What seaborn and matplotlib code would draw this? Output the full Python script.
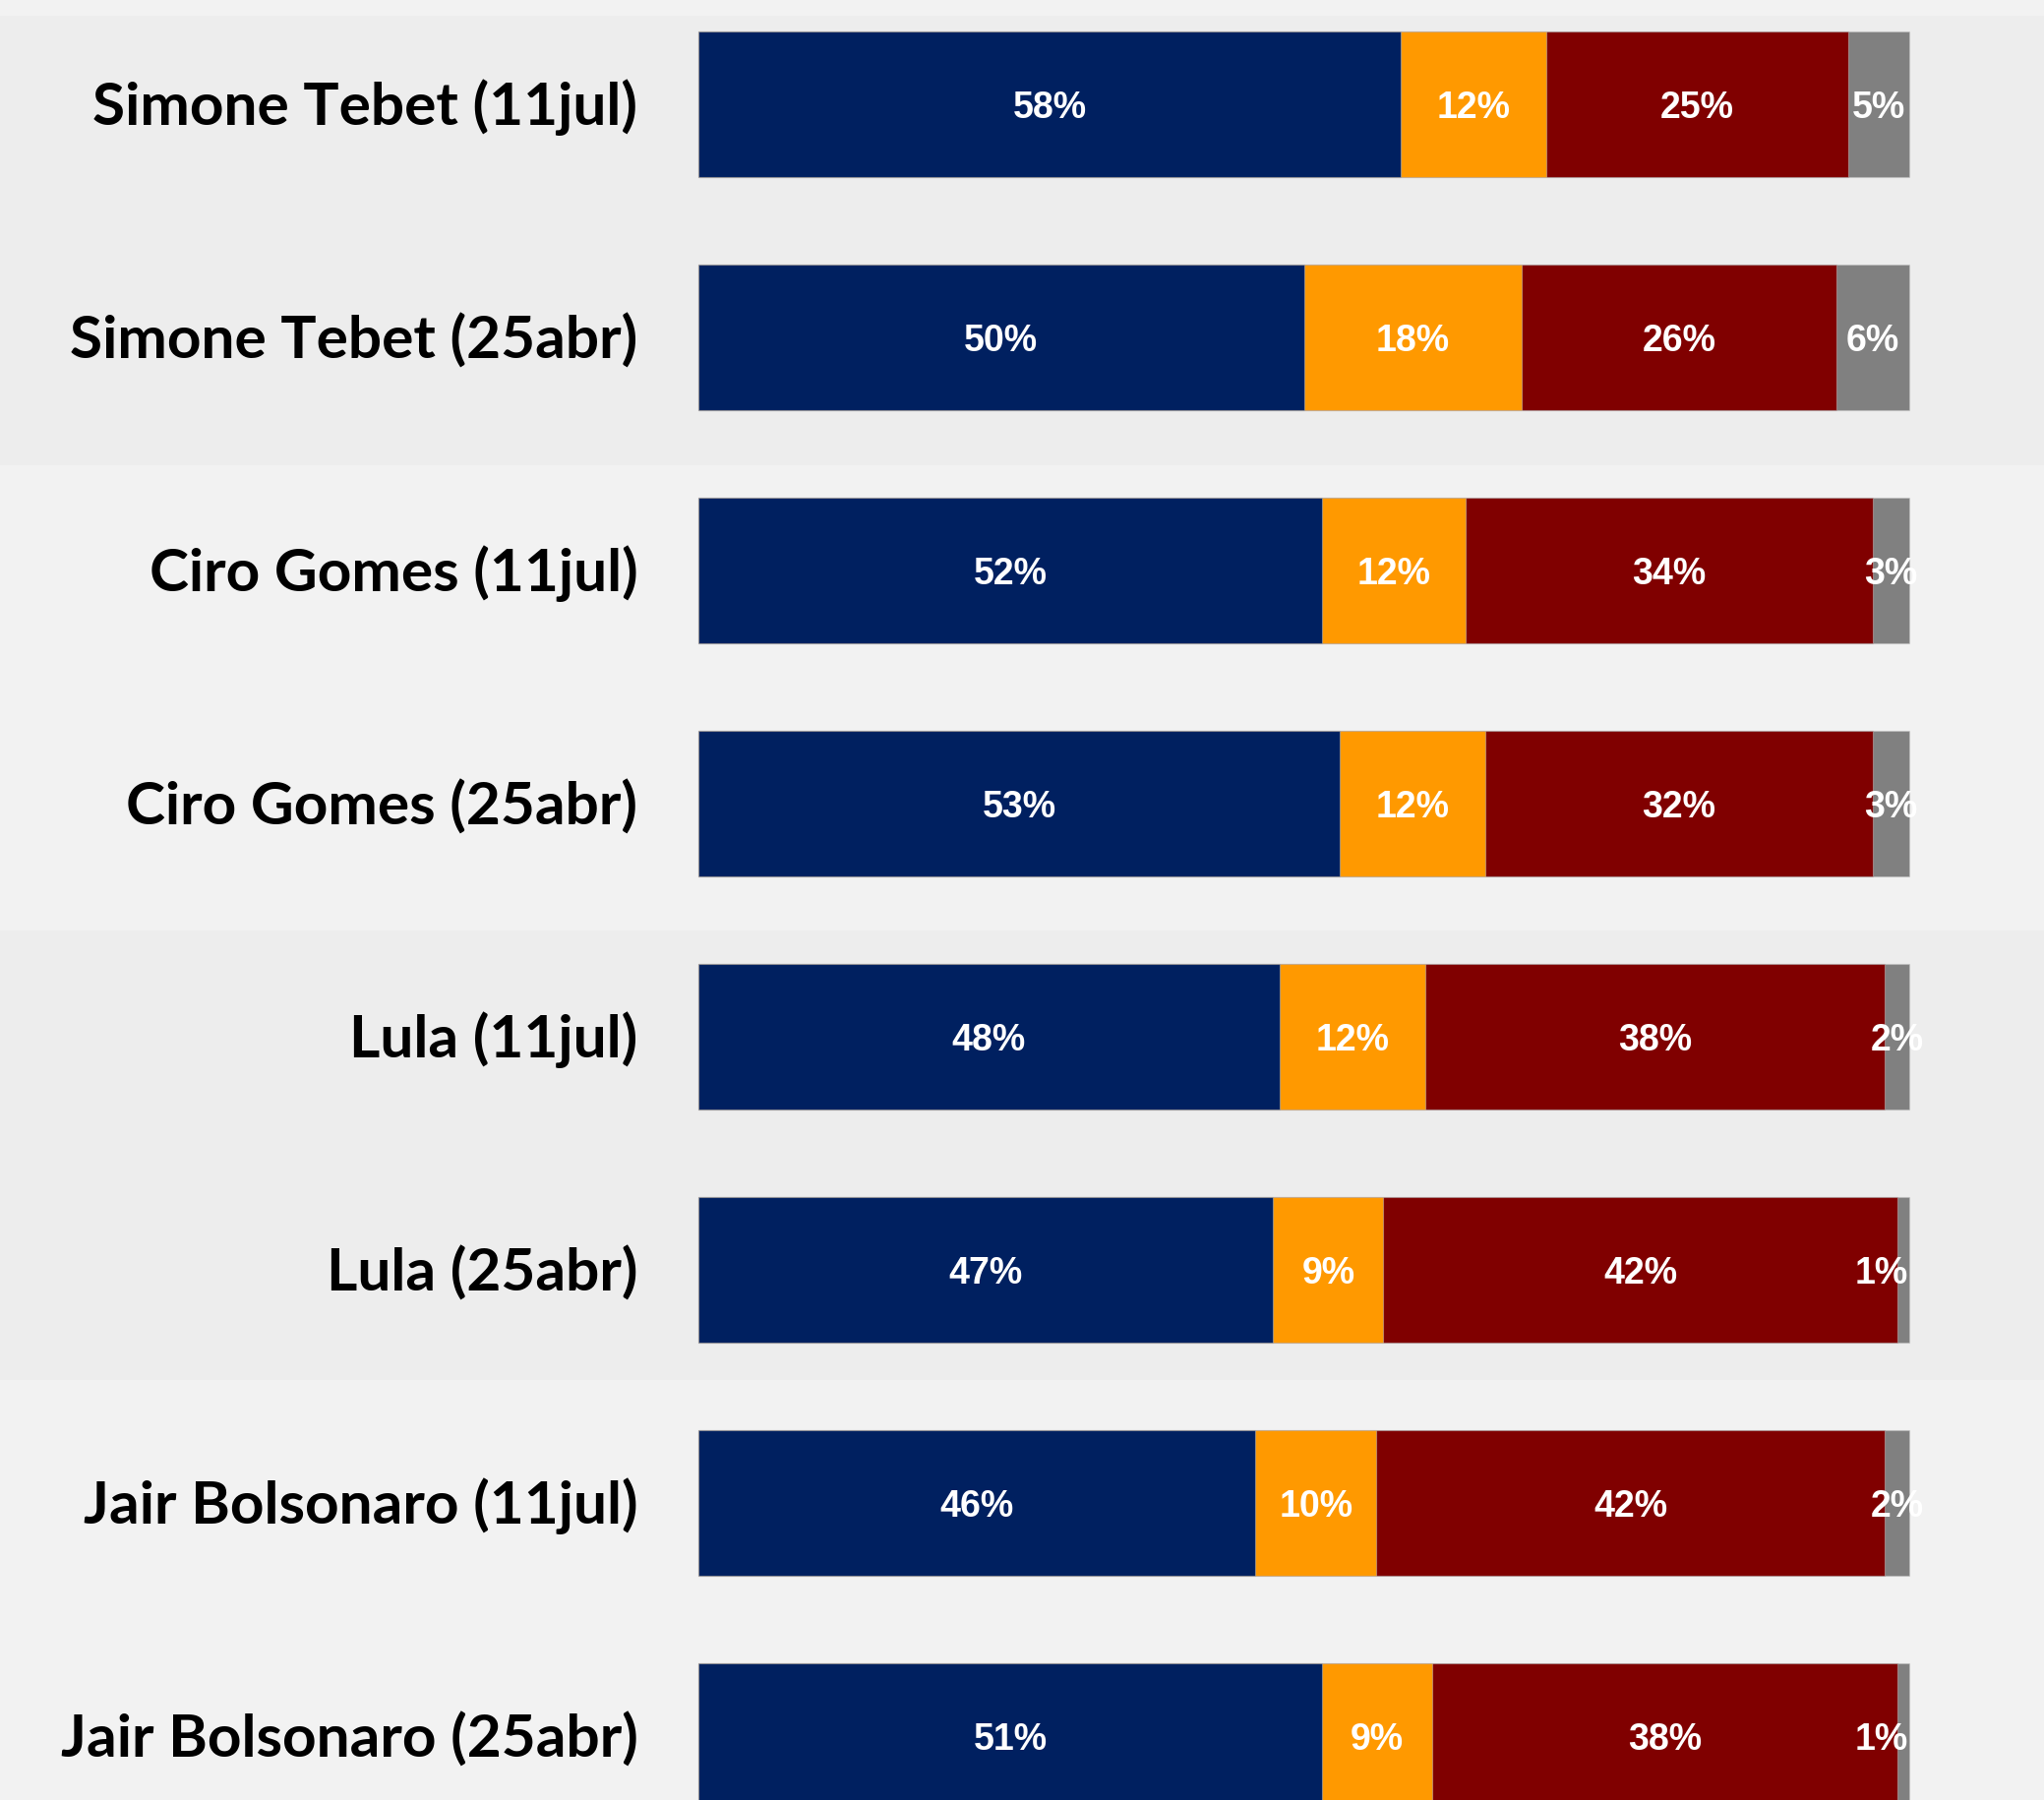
#!/usr/bin/env python3

# import packages
import pandas as pd
import seaborn as sns
import matplotlib.pyplot as plt

# data
labels = ['Simone Tebet (11jul)', 'Simone Tebet (25abr)',
          'Ciro Gomes (11jul)', 'Ciro Gomes (25abr)',
          'Lula (11jul)', 'Lula (25abr)',
          'Jair Bolsonaro (11jul)', 'Jair Bolsonaro (25abr)']
blue_vals = [58, 50, 52, 53, 48, 47, 46, 51]
orange_vals = [12, 18, 12, 12, 12, 9, 10, 9]
red_vals = [25, 26, 34, 32, 38, 42, 42, 38]
gray_vals = [5, 6, 3, 3, 2, 1, 2, 1]

colors = ['#002060', '#ff9900', '#800000', '#808080']

df = pd.DataFrame({'label': labels, 'blue': blue_vals, 'orange': orange_vals,
                   'red': red_vals, 'gray': gray_vals})
series = ['blue', 'orange', 'red', 'gray']
total = df[series].sum(axis=1)
# shares scaled so that every bar fills 100
share = df[series].div(total, axis=0) * 100
cum = share.cumsum(axis=1)

fig = plt.figure(figsize=(20.78, 18.30), dpi=100, facecolor='#f2f2f2')
ax = fig.add_axes([0, 0, 1, 1])
ax.set_facecolor('#f2f2f2')

# background bands, one per candidate (every second one shaded)
for y0, y1 in [(-0.38, 1.549), (3.544, 5.473)]:
    ax.axhspan(y0, y1, color='#ededed', lw=0, zorder=0)

# stacked bars: draw cumulative totals from the back to the front
for s, c in zip(series[::-1], colors[::-1]):
    sns.barplot(x=cum[s].values, y=df['label'], orient='h', color=c,
                saturation=1, width=0.624, linewidth=0.8,
                edgecolor=(0.75, 0.75, 0.75, 0.5), ax=ax, zorder=2)

# value labels + row labels
dy = 0.015
for i in range(len(df)):
    left = 0
    for s in series:
        w = share.loc[i, s]
        xc = left + w / 2
        if w < 1.5:
            xc = 100 - 2.3
        ax.text(xc, i + dy, f"{df.loc[i, s]}%", ha='center', va='center',
                color='white', fontsize=27, fontweight='bold',
                family='Liberation Sans', zorder=3)
        left += w
    ax.text(-5, i + dy, labels[i], ha='right', va='center', fontsize=43.5,
            fontweight='bold', family='Lato', color='black', zorder=3)

ax.set_xlim(-710 / 1231 * 100, (2078 - 710) / 1231 * 100)
ax.set_ylim((1830 - 106) / 237, -106 / 237)
ax.axis('off')

plt.savefig('out.png', dpi=100, facecolor='#f2f2f2')
